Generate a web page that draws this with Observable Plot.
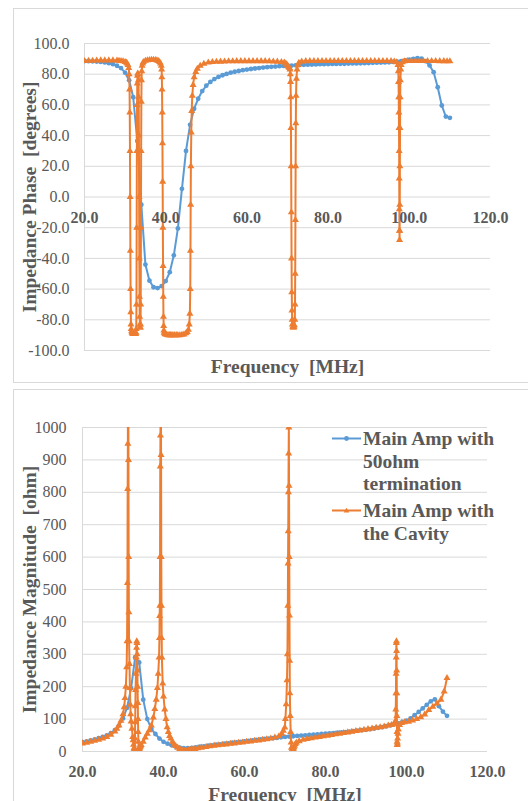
<!DOCTYPE html>
<html><head><meta charset="utf-8">
<script src="https://cdn.jsdelivr.net/npm/d3@7"></script>
<script src="https://cdn.jsdelivr.net/npm/@observablehq/plot@0.6"></script>
<style>
html,body{margin:0;padding:0;background:#fff;}
body{width:528px;height:801px;overflow:hidden;position:relative;font-family:"Liberation Serif","Times New Roman",Times,"DejaVu Serif","Noto Serif",serif;}
.panel{position:absolute;border:1px solid #d9d9d9;box-sizing:border-box;pointer-events:none;}
#phase{position:absolute;left:0;top:0;}
#mag{position:absolute;left:0;top:385px;}
#legend{position:absolute;left:332px;top:428px;color:#595959;font-weight:bold;font-size:19.5px;line-height:22.5px;}
.item{position:relative;}
.item svg{position:absolute;left:0;top:0;}
.item div{margin-left:31px;white-space:pre-line;}
</style>
</head><body>
<div id="phase"></div>
<div id="mag"></div>
<div id="legend"></div>
<div class="panel" style="left:13px;top:8px;width:540px;height:375px;"></div>
<div class="panel" style="left:13px;top:389px;width:540px;height:440px;"></div>
<script>
// ---- data ----
const seriesNames = ["Main Amp with\n50ohm\ntermination", "Main Amp with\nthe Cavity"];
const seriesColors = ["#5B9BD5", "#ED7D31"];
const phaseTicks = [-100, -80, -60, -40, -20, 0, 20, 40, 60, 80, 100];
const magTicks = [0, 100, 200, 300, 400, 500, 600, 700, 800, 900, 1000];
const freqTicks = [20, 40, 60, 80, 100, 120];
const xTitle = "Frequency  [MHz]";
const phaseTitle = "Impedance Phase  [degrees]";
const magTitle = "Impedance Magnitude  [ohm]";

// Main Amp with 50ohm termination (blue)
const blueFreq = [20,21,22,23,24,25,26,27,28,29,30,31,32,33,34,35,36,37,38,39,40,41,42,43,44,45,46,47,48,49,50,51,52,53,54,55,56,57,58,59,60,61,62,63,64,65,66,67,68,69,70,71,72,73,74,75,76,77,78,79,80,81,82,83,84,85,86,87,88,89,90,91,92,93,94,95,96,97,98,99,100,101,102,103,104,105,106,107,108,109,110];
const bluePhase = [88.6,88.5,88.4,88.2,88.0,87.7,87.2,86.5,85.5,84.0,81.0,76.0,65.0,36.5,-5.0,-44.0,-54.5,-58.8,-59.3,-58.0,-54.8,-49.0,-38.0,-20.5,5.3,30.0,47.0,57.5,64.0,69.0,72.5,75.0,76.8,78.2,79.3,80.2,81.0,81.6,82.1,82.6,83.0,83.4,83.7,84.0,84.3,84.6,84.8,85.0,85.2,85.4,85.5,85.6,85.8,86.0,86.1,86.2,86.3,86.4,86.5,86.5,86.6,86.7,86.7,86.8,86.8,86.9,87.0,87.0,87.1,87.2,87.3,87.4,87.5,87.6,87.7,87.8,88.0,88.2,88.5,89.0,89.5,90.0,90.4,90.2,88.5,85.7,81.3,71.5,59.6,52.4,51.6];
const blueMag = [29,31,34,37,41,45,50,57,66,80,102,135,195,291,275,160,100,70,54,40,30,24,19,15,12,10,10,11,13,15,16,18,19,21,22,24,25,27,28,30,31,33,34,36,37,39,40,41,42,44,45,46,47,48,49,50,51,52,53,54,55,56,57,58,59,60,61,63,64,66,67,69,71,73,75,78,81,84,87,91,95,102,112,122,133,144,155,161,140,123,110];

// Main Amp with the Cavity (orange)
const orangeFreq = [
  20,21,22,23,24,25,26,27,28,28.5,29,29.5,30,30.3,30.5,30.7,30.9,
  31.0,31.1,31.15,31.2,31.25,31.3,31.35,31.4,31.45,31.5,31.6,31.7,31.8,31.9,
  32.0,32.2,32.4,32.5,32.6,32.7,32.75,32.8,32.85,32.9,32.95,
  33.0,33.05,33.1,33.2,33.3,33.35,33.4,33.45,33.5,33.55,33.6,33.65,33.7,33.75,33.8,33.85,33.9,33.95,
  34.0,34.05,34.1,34.2,34.35,34.5,35.0,35.5,36.0,36.5,37.0,37.5,37.85,38.2,38.5,38.7,38.9,
  39.0,39.05,39.1,39.15,39.2,39.25,39.3,39.35,39.4,39.45,39.5,39.55,39.6,39.8,
  40.0,40.3,40.6,40.9,41.2,41.5,41.8,42.2,42.6,43.0,43.5,44.0,44.5,45.0,45.3,45.6,45.8,45.95,
  46.05,46.1,46.15,46.2,46.3,46.4,46.55,46.75,47.0,47.4,47.8,48.5,49.4,50.5,51.5,52.5,53.5,54.5,55.5,56.5,57.5,58.5,59.5,
  60.5,61.5,62.5,63.5,64.5,65.5,66.5,67.5,68.5,69.2,69.6,69.95,
  70.1,70.3,70.5,70.6,70.7,70.75,70.8,70.85,70.9,70.95,71.0,71.05,71.1,71.15,71.2,71.3,71.4,71.5,71.6,71.7,71.8,71.85,71.9,71.95,
  72.0,72.05,72.1,72.2,72.35,72.55,72.8,73.5,74.5,75.5,76.5,77.5,78.5,79.5,
  80.5,81.5,82.5,83.5,84.5,85.5,86.5,87.5,88.5,89.5,90.5,91.5,92.5,93.5,94.5,95.5,96.3,96.9,
  97.2,97.3,97.35,97.4,97.43,97.46,97.5,97.52,97.55,97.58,97.6,97.62,97.65,97.68,97.72,97.76,97.8,97.9,
  98.0,98.3,98.8,99.5,100.5,101.5,102.5,103.5,104.5,105.5,106.5,107.5,108.5,109.3,110.0];
const orangePhase = [
  88.6,88.7,88.8,88.9,89.0,89.0,89.0,89.0,88.9,88.8,88.6,88.4,88.0,87.6,87.0,86.0,84.0,
  80.0,70.0,55.0,30.0,0.0,-35.0,-60.0,-75.0,-83.0,-86.0,-87.5,-88.3,-88.7,-89.0,
  -89.2,-89.3,-89.3,-89.2,-89.0,-88.5,-86.0,-70.0,-20.0,30.0,60.0,
  74.0,79.0,80.5,80.0,76.0,65.0,40.0,0.0,-40.0,-65.0,-78.0,-83.0,-85.0,-85.0,-83.0,-70.0,-20.0,30.0,
  62.0,76.0,82.0,85.5,87.0,88.0,88.8,89.1,89.3,89.4,89.4,89.3,89.0,88.6,88.0,87.0,85.5,
  83.0,78.0,70.0,55.0,35.0,10.0,-20.0,-45.0,-65.0,-78.0,-84.0,-87.0,-88.5,-89.3,
  -89.6,-89.8,-90.0,-90.0,-90.0,-90.0,-90.0,-90.0,-90.0,-90.0,-90.0,-89.8,-89.5,-88.8,-88.0,-86.5,-83.0,-76.0,
  -60.0,-35.0,-5.0,20.0,42.0,56.0,66.0,73.0,78.0,81.5,83.5,85.5,86.8,87.6,87.9,88.1,88.2,88.3,88.4,88.4,88.5,88.5,88.5,
  88.5,88.5,88.5,88.5,88.5,88.4,88.3,88.2,88.0,87.6,87.0,86.0,
  85.2,84.5,84.0,83.0,80.0,75.0,65.0,45.0,20.0,-10.0,-40.0,-62.0,-74.0,-80.0,-83.0,-84.5,-85.0,-85.0,-84.5,-83.5,-80.0,-70.0,-50.0,-15.0,
  20.0,48.0,66.0,77.0,83.0,86.0,87.5,88.3,88.5,88.6,88.6,88.6,88.6,88.6,
  88.6,88.6,88.6,88.6,88.6,88.6,88.6,88.6,88.6,88.6,88.6,88.6,88.6,88.6,88.6,88.5,88.3,87.8,
  86.0,82.0,75.0,65.0,55.0,45.0,30.0,12.0,-8.0,-22.0,-28.0,-22.0,-5.0,20.0,45.0,65.0,76.0,83.0,
  86.0,87.8,88.4,88.6,88.6,88.6,88.6,88.6,88.6,88.6,88.6,88.5,88.5,88.4,88.4];
const orangeMag = [
  25,27,30,33,36,40,45,52,62,70,80,95,115,137,165,200,260,
  340,520,810,950,1300,1250,900,600,430,340,270,196,144,115,
  93,70,45,35,21,10,5,2,1,8,40,
  90,140,190,240,290,320,340,335,300,250,200,150,100,60,30,10,2,1,
  4,7,10,13,16,20,30,43,55,66,80,105,131,160,196,240,290,
  350,418,450,600,880,975,1200,1100,915,600,450,350,290,210,
  170,130,100,75,60,48,40,30,22,17,12,8,5,3,2,1,1,1,
  1,2,2,3,3,4,4,5,6,7,8,10,12,14,16,18,19,21,22,24,25,27,28,
  30,31,33,34,36,38,40,43,47,55,64,74,
  100,146,220,300,450,580,680,800,920,1000,820,600,420,280,180,110,60,28,12,5,2,1,1,2,
  4,6,9,13,18,23,27,32,36,39,41,43,45,47,
  49,51,53,55,57,59,61,63,65,67,69,71,73,75,77,80,82,85,
  88,95,130,180,240,290,335,340,310,250,180,110,60,30,20,25,40,55,
  68,82,88,90,92,96,100,106,114,128,138,148,160,185,227];

// ---- tables built from the arrays ----
const blue = blueFreq.map((f, i) => ({f, phase: bluePhase[i], mag: blueMag[i]}));
const orange = orangeFreq.map((f, i) => ({f, phase: orangePhase[i], mag: orangeMag[i]}));

const GRID = "#d9d9d9", TXT = "#595959";
const FONT = "'Liberation Serif', 'Times New Roman', Times, 'DejaVu Serif', 'Noto Serif', serif";

function seriesMarks(key) {
  return [
    Plot.line(blue, {x: "f", y: key, stroke: seriesColors[0], strokeWidth: 2, clip: true}),
    Plot.dot(blue, {x: "f", y: key, r: 2.4, fill: seriesColors[0], stroke: "none", clip: true}),
    Plot.line(orange, {x: "f", y: key, stroke: seriesColors[1], strokeWidth: 2, clip: true}),
    Plot.dot(orange, {x: "f", y: key, symbol: "triangle", r: 2.6, fill: seriesColors[1], stroke: "none", clip: true})
  ];
}

const phasePlot = Plot.plot({
  width: 528, height: 385,
  marginLeft: 84, marginRight: 38, marginTop: 43, marginBottom: 35,
  x: {domain: [20, 120], axis: null},
  y: {domain: [-100, 100], axis: null},
  style: {background: "none", fontFamily: FONT, overflow: "visible"},
  marks: [
    Plot.ruleY(phaseTicks, {stroke: GRID, strokeWidth: 1}),
    Plot.ruleX([20], {stroke: GRID, strokeWidth: 1}),
    ...seriesMarks("phase"),
    Plot.text(phaseTicks, {x: () => 20, y: d => d, text: d => d.toFixed(1), textAnchor: "end", dx: -15, fontSize: 16, fill: TXT}),
    Plot.text(freqTicks, {x: d => d, y: () => 0, text: d => d.toFixed(1), dy: 20.7, fontSize: 16, fontWeight: "bold", fill: TXT}),
    Plot.text([xTitle], {frameAnchor: "bottom", text: d => d, textAnchor: "middle", lineAnchor: "middle", dy: 15.8, fontSize: 19.5, fontWeight: "bold", fill: TXT}),
    Plot.text([phaseTitle], {frameAnchor: "left", text: d => d, textAnchor: "middle", lineAnchor: "middle", rotate: -90, dx: -55.2, fontSize: 19.5, fontWeight: "bold", fill: TXT})
  ]
});
document.getElementById("phase").appendChild(phasePlot);

const magPlot = Plot.plot({
  width: 528, height: 416,
  marginLeft: 82, marginRight: 41, marginTop: 42, marginBottom: 50,
  x: {domain: [20, 120], axis: null},
  y: {domain: [0, 1000], axis: null},
  style: {background: "none", fontFamily: FONT, overflow: "visible"},
  marks: [
    Plot.ruleY(magTicks, {stroke: GRID, strokeWidth: 1}),
    Plot.ruleX([20], {stroke: GRID, strokeWidth: 1}),
    ...seriesMarks("mag"),
    Plot.text(magTicks, {x: () => 20, y: d => d, text: d => String(d), textAnchor: "end", dx: -16, fontSize: 16, fill: TXT}),
    Plot.text(freqTicks, {x: d => d, y: () => 0, text: d => d.toFixed(1), dy: 20, fontSize: 16, fontWeight: "bold", fill: TXT}),
    Plot.text([xTitle], {frameAnchor: "bottom", text: d => d, textAnchor: "middle", lineAnchor: "middle", dy: 42.8, fontSize: 19.5, fontWeight: "bold", fill: TXT}),
    Plot.text([magTitle], {frameAnchor: "left", text: d => d, textAnchor: "middle", lineAnchor: "middle", rotate: -90, dx: -53.2, fontSize: 19.5, fontWeight: "bold", fill: TXT})
  ]
});
document.getElementById("mag").appendChild(magPlot);

// ---- legend ----
const legend = document.getElementById("legend");
const symbols = [
  '<circle cx="14.5" cy="10.5" r="2.4" fill="COLOR"/>',
  '<path d="M14.5,7.7 L17.3,12.5 L11.7,12.5 Z" fill="COLOR"/>'
];
seriesNames.forEach((name, i) => {
  const item = document.createElement("div");
  item.className = "item";
  item.style.marginBottom = i === 0 ? "4.5px" : "0";
  item.innerHTML = '<svg width="29" height="22" viewBox="0 0 29 22"><line x1="0" x2="29" y1="10.5" y2="10.5" stroke="' + seriesColors[i] + '" stroke-width="2"/>' + symbols[i].replace("COLOR", seriesColors[i]) + '</svg>';
  const t = document.createElement("div");
  t.textContent = name;
  item.appendChild(t);
  legend.appendChild(item);
});
</script>
</body></html>
